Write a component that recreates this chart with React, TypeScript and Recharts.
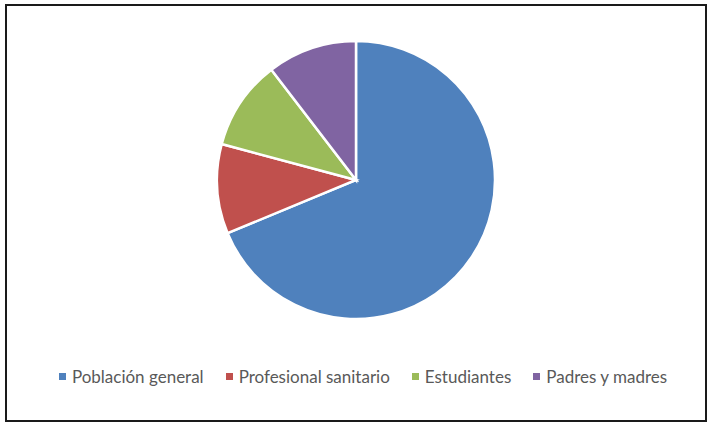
import React from 'react';
import { PieChart, Pie, Cell, Legend } from 'recharts';

const categories = ['Población general', 'Profesional sanitario', 'Estudiantes', 'Padres y madres'];
const values = [66, 10, 10, 10];
const colors = ['#4F81BD', '#C0504D', '#9BBB59', '#8064A2'];

const data = categories.map((name, i) => ({ name, value: values[i] }));

const renderLegend = () => (
  <div style={{ display: 'flex', justifyContent: 'center', alignItems: 'center', fontFamily: 'Lato, sans-serif', fontSize: 17, color: '#595959' }}>
    {categories.map((name, i) => (
      <div key={name} style={{ display: 'flex', alignItems: 'center', marginLeft: i === 0 ? 0 : 22 }}>
        <span style={{ display: 'inline-block', width: 7, height: 7, background: colors[i], marginRight: 6 }} />
        <span>{name}</span>
      </div>
    ))}
  </div>
);

export default function App() {
  return (
    <div style={{ position: 'absolute', left: 0, top: 0, width: 708, height: 428, background: '#fff' }}>
      <div style={{ position: 'absolute', left: 5, top: 4, width: 698, height: 414, border: '2px solid #1a1a1a' }} />
      <PieChart width={708} height={428} style={{ position: 'absolute', left: 0, top: 0 }}>
        <Pie
          data={data}
          dataKey="value"
          nameKey="name"
          cx={351}
          cy={175}
          outerRadius={139}
          startAngle={90}
          endAngle={-270}
          stroke="#ffffff"
          strokeWidth={2.5}
          isAnimationActive={false}
        >
          {data.map((entry, i) => (
            <Cell key={`cell-${i}`} fill={colors[i]} />
          ))}
        </Pie>
        <Legend content={renderLegend} wrapperStyle={{ top: 366, left: 0, width: 726 }} />
      </PieChart>
    </div>
  );
}
